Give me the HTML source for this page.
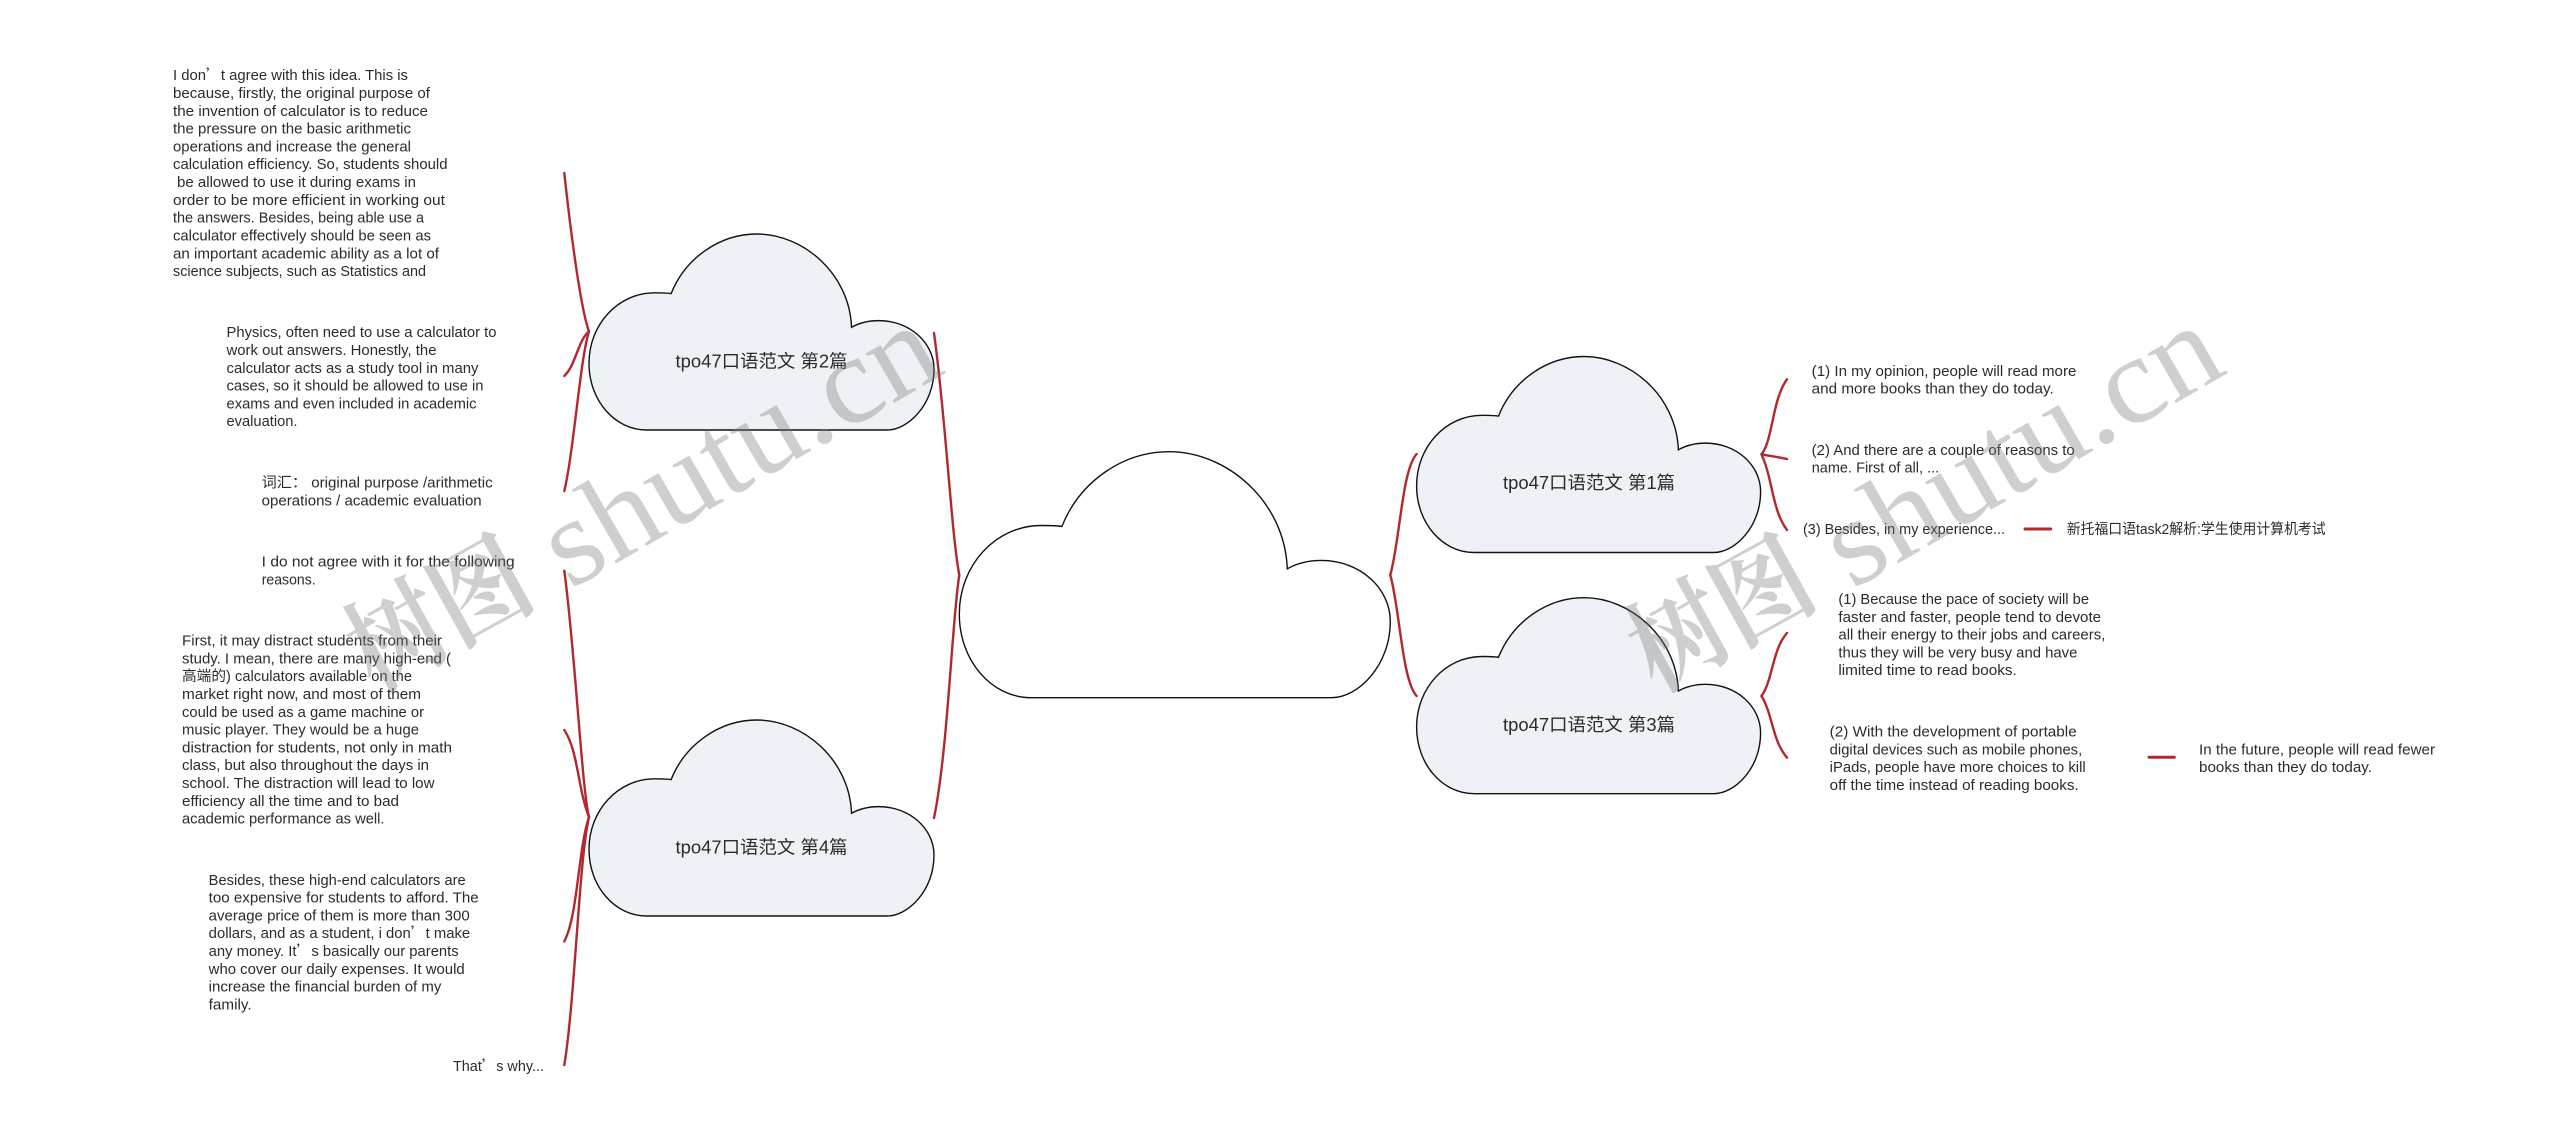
<!DOCTYPE html>
<html lang="zh-CN"><head><meta charset="utf-8"><title>tpo47口语范文</title>
<style>
html,body{margin:0;padding:0;background:#fff;width:2560px;height:1141px;overflow:hidden}
svg{display:block}
.t{font:14.5px "Liberation Sans","Noto Sans CJK SC",sans-serif;fill:#2b2b2b}
.c{font:18px "Liberation Sans","Noto Sans CJK SC",sans-serif;fill:#2b2b2b;text-anchor:middle}
.q{font-family:"Noto Sans CJK SC",sans-serif}
.r{fill:none;stroke:#b2282f;stroke-width:2.4;stroke-linecap:round}
.k{fill:#eef1f5;stroke:#111;stroke-width:1.4;vector-effect:non-scaling-stroke}
.w{font:124px "Liberation Serif",serif;fill:rgba(120,125,125,.36)}
.x{font:700 105px "Noto Serif CJK SC",serif;fill:rgba(120,125,125,.36)}
</style></head><body>
<svg width="2560" height="1141" viewBox="0 0 2560 1141" xmlns="http://www.w3.org/2000/svg">
<rect width="2560" height="1141" fill="#fff"/>

<path class="k" style="fill:#fff" transform="translate(959.3,451.7) scale(431,246)" d="M.167 1C.075 1 0 .85 0 .66C0 .46 .085 .30 .19 .30C.208 .30 .225 .30 .238 .304C.28 .12 .38 0 .487 0C.62 0 .755 .20 .761 .476C.782 .455 .81 .442 .84 .442C.93 .442 1 .555 1 .69C1 .87 .925 1 .864 1Z"/>
<path class="k" transform="translate(589,234) scale(345,196)" d="M.167 1C.075 1 0 .85 0 .66C0 .46 .085 .30 .19 .30C.208 .30 .225 .30 .238 .304C.28 .12 .38 0 .487 0C.62 0 .755 .20 .761 .476C.782 .455 .81 .442 .84 .442C.93 .442 1 .555 1 .69C1 .87 .925 1 .864 1Z"/>
<path class="k" transform="translate(589,720) scale(345,196)" d="M.167 1C.075 1 0 .85 0 .66C0 .46 .085 .30 .19 .30C.208 .30 .225 .30 .238 .304C.28 .12 .38 0 .487 0C.62 0 .755 .20 .761 .476C.782 .455 .81 .442 .84 .442C.93 .442 1 .555 1 .69C1 .87 .925 1 .864 1Z"/>
<path class="k" transform="translate(1416.6,356.5) scale(344,196)" d="M.167 1C.075 1 0 .85 0 .66C0 .46 .085 .30 .19 .30C.208 .30 .225 .30 .238 .304C.28 .12 .38 0 .487 0C.62 0 .755 .20 .761 .476C.782 .455 .81 .442 .84 .442C.93 .442 1 .555 1 .69C1 .87 .925 1 .864 1Z"/>
<path class="k" transform="translate(1416.6,597.7) scale(344,196)" d="M.167 1C.075 1 0 .85 0 .66C0 .46 .085 .30 .19 .30C.208 .30 .225 .30 .238 .304C.28 .12 .38 0 .487 0C.62 0 .755 .20 .761 .476C.782 .455 .81 .442 .84 .442C.93 .442 1 .555 1 .69C1 .87 .925 1 .864 1Z"/>

<text class="c" x="761.5" y="367.5" textLength="172" lengthAdjust="spacingAndGlyphs">tpo47口语范文 第2篇</text>
<text class="c" x="761.5" y="853.5" textLength="172" lengthAdjust="spacingAndGlyphs">tpo47口语范文 第4篇</text>
<text class="c" x="1589" y="489" textLength="172" lengthAdjust="spacingAndGlyphs">tpo47口语范文 第1篇</text>
<text class="c" x="1589" y="731" textLength="172" lengthAdjust="spacingAndGlyphs">tpo47口语范文 第3篇</text>

<g class="r">
<path d="M959.3 575C951 530 946 420 934 333"/>
<path d="M959.3 575C952 620 948 750 934 818"/>
<path d="M1390.3 575C1400 540 1402 470 1416.6 454"/>
<path d="M1390.3 575C1400 610 1402 680 1416.6 696"/>
<path d="M1761.5 454.3C1773 440 1772 400 1787 379.3"/>
<path d="M1761.5 454.3C1770 456 1778 457 1787 459"/>
<path d="M1761.5 454.3C1773 480 1772 510 1787 530"/>
<path d="M1761.5 696C1773 680 1772 650 1787 633"/>
<path d="M1761.5 696C1773 715 1772 740 1787 757.7"/>
<path d="M589 331.4C581 310 571 235 564.3 173"/>
<path d="M589 331.4C578 340 576 365 564.3 376"/>
<path d="M589 331.4C580 360 574 450 564.3 491"/>
<path d="M589 817C582 790 575 650 564.3 570.7"/>
<path d="M589 817C578 790 578 750 564.3 730"/>
<path d="M589 817C578 850 578 915 564.3 941.4"/>
<path d="M589 817C579 860 575 1000 564.3 1065"/>
<path style="stroke-width:3" d="M2025 529H2050.7"/>
<path style="stroke-width:3" d="M2149 757.3H2174.3"/>
</g>

<g class="t">
<text x="173" y="80" textLength="235" lengthAdjust="spacingAndGlyphs">I don<tspan class="q">’</tspan>t agree with this idea. This is</text>
<text x="173" y="98" textLength="257" lengthAdjust="spacingAndGlyphs">because, firstly, the original purpose of</text>
<text x="173" y="115.8" textLength="255" lengthAdjust="spacingAndGlyphs">the invention of calculator is to reduce</text>
<text x="173" y="133.6" textLength="238" lengthAdjust="spacingAndGlyphs">the pressure on the basic arithmetic</text>
<text x="173" y="151.4" textLength="238" lengthAdjust="spacingAndGlyphs">operations and increase the general</text>
<text x="173" y="169.2" textLength="274.5" lengthAdjust="spacingAndGlyphs">calculation efficiency. So, students should</text>
<text x="177" y="187.1" textLength="239" lengthAdjust="spacingAndGlyphs">be allowed to use it during exams in</text>
<text x="173" y="204.9" textLength="272" lengthAdjust="spacingAndGlyphs">order to be more efficient in working out</text>
<text x="173" y="222.7" textLength="251" lengthAdjust="spacingAndGlyphs">the answers. Besides, being able use a</text>
<text x="173" y="240.5" textLength="258" lengthAdjust="spacingAndGlyphs">calculator effectively should be seen as</text>
<text x="173" y="258.3" textLength="266" lengthAdjust="spacingAndGlyphs">an important academic ability as a lot of</text>
<text x="173" y="276.1" textLength="253" lengthAdjust="spacingAndGlyphs">science subjects, such as Statistics and</text>

<text x="226.5" y="337" textLength="270" lengthAdjust="spacingAndGlyphs">Physics, often need to use a calculator to</text>
<text x="226.5" y="355" textLength="210" lengthAdjust="spacingAndGlyphs">work out answers. Honestly, the</text>
<text x="226.5" y="373" textLength="252" lengthAdjust="spacingAndGlyphs">calculator acts as a study tool in many</text>
<text x="226.5" y="390.5" textLength="257" lengthAdjust="spacingAndGlyphs">cases, so it should be allowed to use in</text>
<text x="226.5" y="408.3" textLength="250" lengthAdjust="spacingAndGlyphs">exams and even included in academic</text>
<text x="226.5" y="426.2" textLength="71" lengthAdjust="spacingAndGlyphs">evaluation.</text>

<text x="261.7" y="487.7" textLength="231" lengthAdjust="spacingAndGlyphs">词汇： original purpose /arithmetic</text>
<text x="261.7" y="505.6" textLength="220" lengthAdjust="spacingAndGlyphs">operations / academic evaluation</text>

<text x="261.7" y="566.6" textLength="253" lengthAdjust="spacingAndGlyphs">I do not agree with it for the following</text>
<text x="261.7" y="584.5" textLength="54" lengthAdjust="spacingAndGlyphs">reasons.</text>

<text x="182" y="645.6" textLength="260" lengthAdjust="spacingAndGlyphs">First, it may distract students from their</text>
<text x="182" y="663.4" textLength="269" lengthAdjust="spacingAndGlyphs">study. I mean, there are many high-end (</text>
<text x="182" y="681.2" textLength="230" lengthAdjust="spacingAndGlyphs">高端的) calculators available on the</text>
<text x="182" y="699" textLength="239" lengthAdjust="spacingAndGlyphs">market right now, and most of them</text>
<text x="182" y="716.8" textLength="242" lengthAdjust="spacingAndGlyphs">could be used as a game machine or</text>
<text x="182" y="734.6" textLength="237" lengthAdjust="spacingAndGlyphs">music player. They would be a huge</text>
<text x="182" y="752.4" textLength="270" lengthAdjust="spacingAndGlyphs">distraction for students, not only in math</text>
<text x="182" y="770.2" textLength="247" lengthAdjust="spacingAndGlyphs">class, but also throughout the days in</text>
<text x="182" y="788" textLength="252.5" lengthAdjust="spacingAndGlyphs">school. The distraction will lead to low</text>
<text x="182" y="805.8" textLength="217" lengthAdjust="spacingAndGlyphs">efficiency all the time and to bad</text>
<text x="182" y="823.6" textLength="202.5" lengthAdjust="spacingAndGlyphs">academic performance as well.</text>

<text x="208.7" y="884.8" textLength="257" lengthAdjust="spacingAndGlyphs">Besides, these high-end calculators are</text>
<text x="208.7" y="902.6" textLength="270" lengthAdjust="spacingAndGlyphs">too expensive for students to afford. The</text>
<text x="208.7" y="920.4" textLength="261" lengthAdjust="spacingAndGlyphs">average price of them is more than 300</text>
<text x="208.7" y="938.2" textLength="261.5" lengthAdjust="spacingAndGlyphs">dollars, and as a student, i don<tspan class="q">’</tspan>t make</text>
<text x="208.7" y="956" textLength="250" lengthAdjust="spacingAndGlyphs">any money. It<tspan class="q">’</tspan>s basically our parents</text>
<text x="208.7" y="973.8" textLength="256" lengthAdjust="spacingAndGlyphs">who cover our daily expenses. It would</text>
<text x="208.7" y="991.6" textLength="232.7" lengthAdjust="spacingAndGlyphs">increase the financial burden of my</text>
<text x="208.7" y="1009.4" textLength="43" lengthAdjust="spacingAndGlyphs">family.</text>

<text x="453" y="1070.8" textLength="91" lengthAdjust="spacingAndGlyphs">That<tspan class="q">’</tspan>s why...</text>

<text x="1811.7" y="375.8" textLength="264.7" lengthAdjust="spacingAndGlyphs">(1) In my opinion, people will read more</text>
<text x="1811.7" y="393.5" textLength="242" lengthAdjust="spacingAndGlyphs">and more books than they do today.</text>
<text x="1811.7" y="454.8" textLength="263" lengthAdjust="spacingAndGlyphs">(2) And there are a couple of reasons to</text>
<text x="1811.7" y="472.5" textLength="127.5" lengthAdjust="spacingAndGlyphs">name. First of all, ...</text>
<text x="1803" y="534.2" textLength="202" lengthAdjust="spacingAndGlyphs">(3) Besides, in my experience...</text>
<text x="2066.7" y="534.2" textLength="259" lengthAdjust="spacingAndGlyphs">新托福口语task2解析:学生使用计算机考试</text>

<text x="1838.4" y="603.9" textLength="250.6" lengthAdjust="spacingAndGlyphs">(1) Because the pace of society will be</text>
<text x="1838.4" y="621.8" textLength="262.7" lengthAdjust="spacingAndGlyphs">faster and faster, people tend to devote</text>
<text x="1838.4" y="639.7" textLength="267" lengthAdjust="spacingAndGlyphs">all their energy to their jobs and careers,</text>
<text x="1838.4" y="657.5" textLength="239" lengthAdjust="spacingAndGlyphs">thus they will be very busy and have</text>
<text x="1838.4" y="675.2" textLength="178.4" lengthAdjust="spacingAndGlyphs">limited time to read books.</text>

<text x="1829.7" y="736.5" textLength="247" lengthAdjust="spacingAndGlyphs">(2) With the development of portable</text>
<text x="1829.7" y="754.3" textLength="252.5" lengthAdjust="spacingAndGlyphs">digital devices such as mobile phones,</text>
<text x="1829.7" y="772.1" textLength="256" lengthAdjust="spacingAndGlyphs">iPads, people have more choices to kill</text>
<text x="1829.7" y="789.9" textLength="249" lengthAdjust="spacingAndGlyphs">off the time instead of reading books.</text>

<text x="2199" y="754.4" textLength="236" lengthAdjust="spacingAndGlyphs">In the future, people will read fewer</text>
<text x="2199" y="772.2" textLength="173" lengthAdjust="spacingAndGlyphs">books than they do today.</text>
</g>

<text class="x" transform="translate(374,692) rotate(-29) scale(.9,1)">树图</text>
<text class="w" transform="translate(570,590) rotate(-30)" textLength="436" lengthAdjust="spacingAndGlyphs">shutu.cn</text>
<text class="x" transform="translate(1656,692) rotate(-29) scale(.9,1)">树图</text>
<text class="w" transform="translate(1852,590) rotate(-30)" textLength="436" lengthAdjust="spacingAndGlyphs">shutu.cn</text>
</svg>
</body></html>
